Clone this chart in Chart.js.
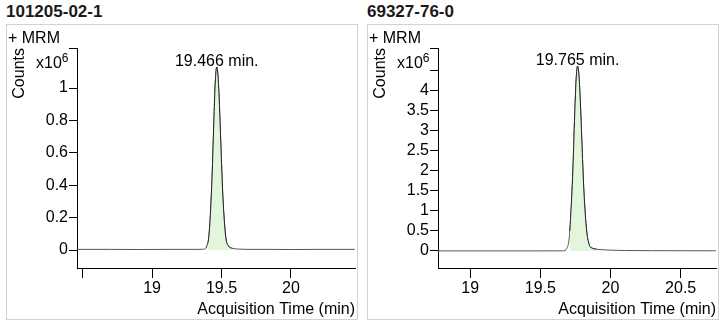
<!DOCTYPE html>
<html>
<head>
<meta charset="utf-8">
<script src="https://cdn.jsdelivr.net/npm/chart.js@4"></script>
<style>
  body { margin: 0; background: #fff; width: 724px; height: 324px; position: relative; overflow: hidden; }
  .title { position: absolute; top: 2px; font: bold 17px/20px "Liberation Sans", Arial, sans-serif; color: #1a1a1a; }
  .box { position: absolute; top: 24px; width: 350px; height: 294px; border: 1px solid #d2d2d2; }
  .box canvas { display: block; }
</style>
</head>
<body>
<div class="title" style="left:6px">101205-02-1</div>
<div class="box" style="left:6px"><canvas id="chart-left" width="350" height="294"></canvas></div>
<div class="title" style="left:367px">69327-76-0</div>
<div class="box" style="left:367px"><canvas id="chart-right" width="350" height="294"></canvas></div>
<script>
// 101205-02-1 : retention time (min) vs counts (x10^6)
const leftTime = [18.46, 18.7, 18.9, 19.1, 19.25, 19.33, 19.37, 19.39, 19.41, 19.43, 19.445, 19.455,
    19.466, 19.475, 19.485, 19.495, 19.51, 19.53, 19.55, 19.58, 19.62, 19.7, 19.85, 20.0, 20.2, 20.46];
const leftCounts = [0.004, 0.004, 0.003, 0.004, 0.004, 0.004, 0.005, 0.014, 0.092, 0.40, 0.79, 1.03,
    1.13, 1.07, 0.90, 0.66, 0.33, 0.085, 0.025, 0.010, 0.006, 0.004, 0.004, 0.003, 0.004, 0.004];
const leftPeak = [19.38, 19.59];
const leftXTicks = [18.5, 19, 19.5, 20];
const leftXLabels = ['', '19', '19.5', '20'];
const leftYTicks = [0, 0.2, 0.4, 0.6, 0.8, 1, 1.247];
const leftYLabels = ['0', '0.2', '0.4', '0.6', '0.8', '1', ''];

// 69327-76-0
const rightTime = [18.77, 19.0, 19.2, 19.4, 19.6, 19.66, 19.69, 19.71, 19.73, 19.745, 19.755, 19.765,
    19.775, 19.785, 19.795, 19.81, 19.83, 19.85, 19.87, 19.9, 19.95, 20.0, 20.1, 20.3, 20.5, 20.75];
const rightCounts = [0.002, 0.002, 0.002, 0.002, 0.003, 0.003, 0.072, 0.49, 1.87, 3.44, 4.29, 4.62,
    4.37, 3.70, 2.80, 1.50, 0.50, 0.14, 0.07, 0.045, 0.03, 0.02, 0.012, 0.008, 0.006, 0.005];
const rightPeak = [19.70, 19.91];
const rightXTicks = [19, 19.5, 20, 20.5];
const rightXLabels = ['19', '19.5', '20', '20.5'];
const rightYTicks = [0, 0.5, 1, 1.5, 2, 2.5, 3, 3.5, 4, 4.5, 5.07];
const rightYLabels = ['0', '0.5', '1', '1.5', '2', '2.5', '3', '3.5', '4', '', ''];

Chart.defaults.font.family = '"Liberation Sans", Arial, sans-serif';
Chart.defaults.font.size = 16;
Chart.defaults.color = '#000';

// "+ MRM", the x10^6 multiplier and the retention time over the apex
const panelText = {
    id: 'panelText',
    afterDraw(chart) {
        const ctx = chart.ctx;
        const xs = chart.scales.x, ys = chart.scales.y;
        const trace = chart.data.datasets[1].data;
        let apex = trace[0];
        for (const p of trace) if (p.y > apex.y) apex = p;

        ctx.save();
        ctx.fillStyle = '#000';
        ctx.textBaseline = 'alphabetic';
        ctx.font = '16px "Liberation Sans"';
        ctx.textAlign = 'left';
        ctx.fillText('+ MRM', 1, 17.5);
        ctx.fillText('x10', 29, 43);
        const w = ctx.measureText('x10').width;
        ctx.font = '12px "Liberation Sans"';
        ctx.fillText('6', 29 + w, 37);

        ctx.font = '16px "Liberation Sans"';
        ctx.textAlign = 'center';
        ctx.fillText(apex.x.toFixed(3) + ' min.', xs.getPixelForValue(apex.x), ys.getPixelForValue(apex.y) - 1);
        ctx.restore();
    }
};

function toPoints(time, counts) {
    return time.map((t, i) => ({x: t, y: counts[i]}));
}

function makePanel(id, time, counts, peak, xMin, xMax, xTicks, xLabels, yMin, yMax, yTicks, yLabels) {
    const trace = toPoints(time, counts);
    const integrated = trace.filter(p => p.x >= peak[0] && p.x <= peak[1]);

    return new Chart(document.getElementById(id), {
        type: 'line',
        data: {
            datasets: [{
                data: integrated,
                borderColor: '#222',
                borderWidth: 1,
                backgroundColor: '#e2f6de',
                fill: 'origin',
                pointRadius: 0,
                cubicInterpolationMode: 'monotone',
                order: 0
            }, {
                data: trace,
                borderColor: '#555',
                borderWidth: 1,
                fill: false,
                pointRadius: 0,
                cubicInterpolationMode: 'monotone',
                order: 1
            }]
        },
        options: {
            responsive: false,
            animation: false,
            devicePixelRatio: 1,
            parsing: false,
            layout: {padding: {top: 23, right: 2, bottom: 0, left: 0}},
            plugins: {legend: {display: false}, tooltip: {enabled: false}},
            scales: {
                x: {
                    type: 'linear',
                    min: xMin,
                    max: xMax,
                    afterFit: s => { s.height = 51; },
                    afterBuildTicks: s => { s.ticks = xTicks.map(v => ({value: v})); },
                    ticks: {autoSkip: false, maxRotation: 0, padding: 1, callback: (v, i) => xLabels[i]},
                    grid: {drawOnChartArea: false, tickLength: 10, color: '#000'},
                    border: {display: true, color: '#000', width: 1},
                    title: {display: true, text: 'Acquisition Time (min)', align: 'end', padding: 0}
                },
                y: {
                    min: yMin,
                    max: yMax,
                    afterFit: s => { s.width = 70; },
                    afterBuildTicks: s => { s.ticks = yTicks.map(v => ({value: v})); },
                    ticks: {autoSkip: false, padding: 1, callback: (v, i) => yLabels[i]},
                    grid: {drawOnChartArea: false, tickLength: 8, color: '#000'},
                    border: {display: true, color: '#000', width: 1},
                    title: {display: true, text: 'Counts', align: 'end', padding: {top: 3, bottom: 0}}
                }
            }
        },
        plugins: [panelText]
    });
}

makePanel('chart-left', leftTime, leftCounts, leftPeak, 18.459, 20.462,
    leftXTicks, leftXLabels, -0.111, 1.247, leftYTicks, leftYLabels);
makePanel('chart-right', rightTime, rightCounts, rightPeak, 18.77, 20.752,
    rightXTicks, rightXLabels, -0.425, 5.07, rightYTicks, rightYLabels);
</script>
</body>
</html>
